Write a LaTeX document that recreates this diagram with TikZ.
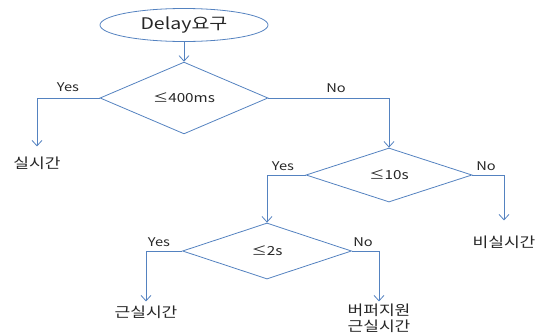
\documentclass[tikz,border=0pt]{standalone}
\usepackage{fontspec}
\setmainfont{Noto Sans CJK KR}[FakeStretch=1.22]
\usetikzlibrary{shapes.geometric,arrows.meta}
\definecolor{flowblue}{RGB}{84,130,192}

\begin{document}
\begin{tikzpicture}[
					x=1pt,y=-1pt,
					font=\fontsize{14}{16}\selectfont,
					every node/.style={text=black!85,inner sep=0pt},
					decision/.style={diamond,draw=flowblue,line width=0.8pt,minimum width=168pt,minimum height=55pt,font=\fontsize{12.5}{14}\selectfont},
					flow/.style={draw=flowblue,line width=0.8pt,-{Straight Barb[length=5.5pt,width=10pt]}},
					answer/.style={font=\fontsize{12}{14}\selectfont},
					]
					\useasboundingbox (0,0) rectangle (547,335);
					\node [ellipse,draw=flowblue,line width=0.8pt,minimum width=168pt,minimum height=33pt,font=\fontsize{16}{18}\selectfont] (delay) at (184,25) {Delay요구};
					\node [decision] (ms400) at (184,98) {≤400ms};
					\node [decision,minimum width=166pt,minimum height=54pt] (s10) at (389,175) {≤10s};
					\node [decision,minimum width=169pt,minimum height=56pt] (s2) at (267,251) {≤2s};
					\node (rt) at (37,163) {실시간};
					\node (nrt) at (504,242) {비실시간};
					\node (nearrt) at (146,312) {근실시간};
					\node [align=center] (buf) at (379,318) {버퍼지원\\근실시간};
					\node [answer] (yes1) at (68,87) {Yes};
					\node [answer] (no1) at (336,88) {No};
					\node [answer] (yes2) at (283,166) {Yes};
					\node [answer] (no2) at (486,166) {No};
					\node [answer] (yes3) at (159,242) {Yes};
					\node [answer] (no3) at (363,242) {No};
					\draw[flow] (delay) -- (ms400);
					\draw[flow,shorten >=10pt] (ms400.west) -| (rt.north);
					\draw[flow] (ms400.east) -| (s10.north);
					\draw[flow] (s10.west) -| (s2.north);
					\draw[flow,shorten >=15pt] (s10.east) -| (nrt.north);
					\draw[flow,shorten >=4pt] (s2.west) -| (nearrt.north);
					\draw[flow,shorten >=2pt] (s2.east) -| (buf.north);
				\end{tikzpicture}
\end{document}
